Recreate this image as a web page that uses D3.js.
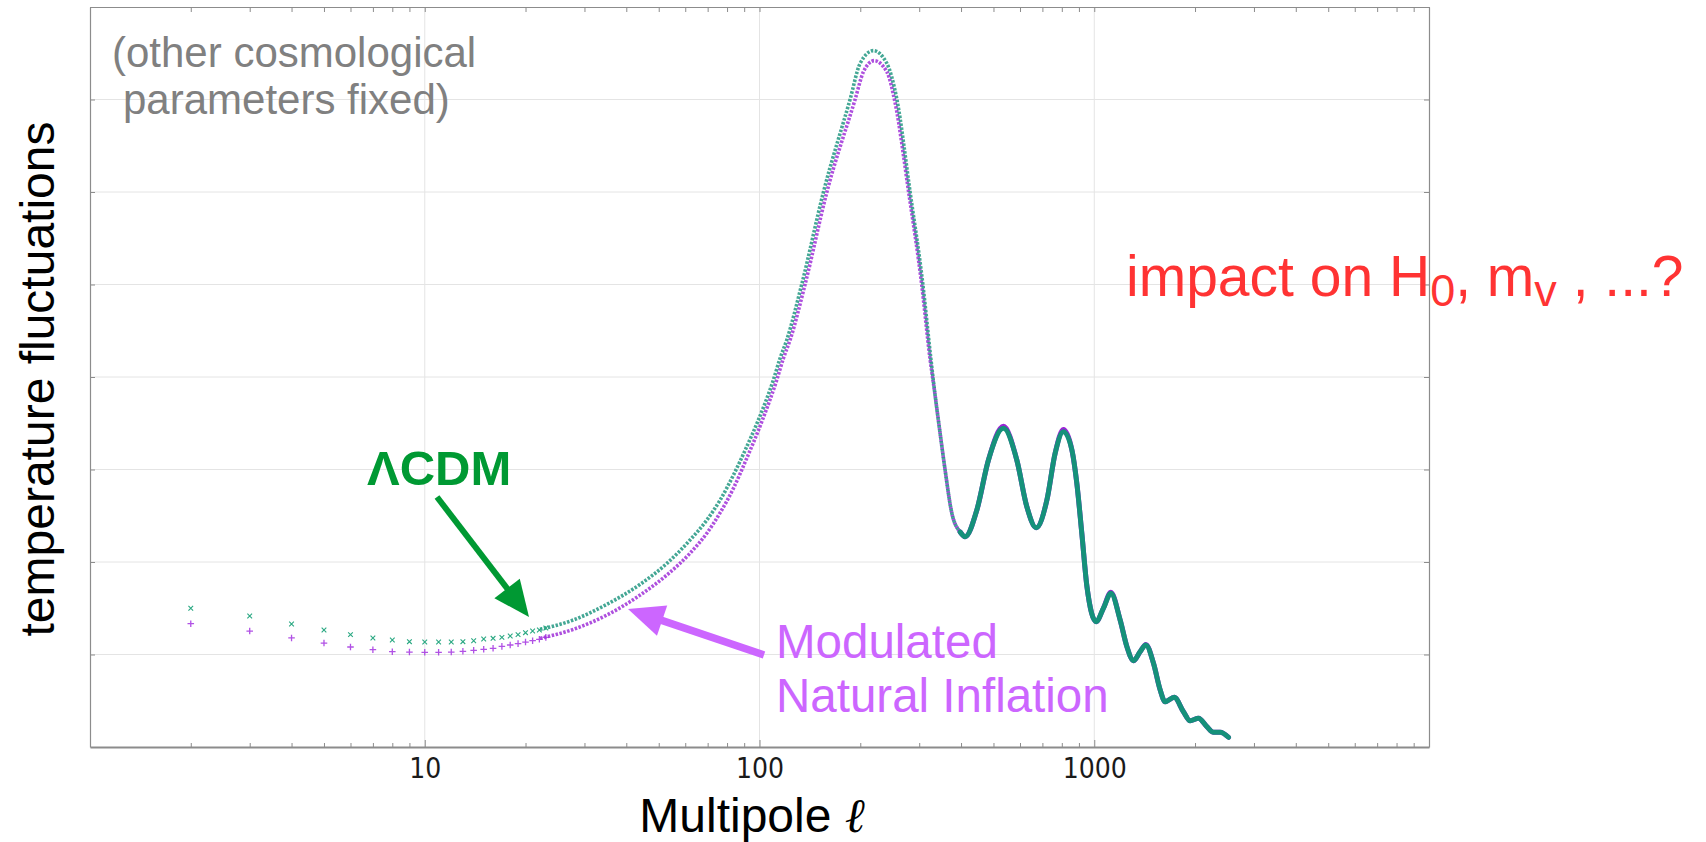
<!DOCTYPE html>
<html>
<head>
<meta charset="utf-8">
<script src="https://cdn.jsdelivr.net/npm/d3@7"></script>
<style>
  html, body { margin: 0; padding: 0; background: #fff; }
  svg { display: block; font-family: "Liberation Sans", Arial, sans-serif; }
</style>
</head>
<body>
<svg id="chart" width="1706" height="842"></svg>
<script>
// CMB temperature power spectrum, D_ell (arbitrary units), for two models.

// Low multipoles, drawn as individual markers
const lowEll  = [2, 3, 4, 5, 6, 7, 8, 9, 10, 11, 12, 13, 14, 15, 16, 17, 18, 19, 20, 21, 22, 23];
const lowLCDM = [1125, 1062, 997, 949, 911, 884, 868, 854, 851, 851, 851, 854, 862, 876, 881, 889, 900, 911, 927, 940, 949, 965];
const lowMNI  = [1000, 940, 884, 843, 811, 789, 773, 770, 768, 768, 770, 776, 784, 792, 800, 816, 827, 838, 851, 862, 873, 889];

// Higher multipoles (dense sampling, rendered as a continuous band)
const ellLCDM = [22.1, 27.8, 35.0, 44.0, 52.9, 62.0, 69.6, 76.3, 83.6, 91.6, 99.2, 110, 115.2, 120.6, 133.8, 155.2,
                 186.5, 199.8, 218.9, 240.1, 257.2, 281.8, 307.5, 324.9, 334.7, 346.4, 358.5, 375.5, 397.6, 411.5,
                 446, 483, 535.5, 587, 629, 670.6, 722, 764, 809, 857.5, 887, 918, 951, 1013, 1065, 1121, 1195,
                 1252, 1310, 1371, 1426, 1503, 1574, 1628, 1733, 1847, 1934, 2048, 2170, 2271, 2378, 2518];
const dlLCDM  = [954, 1030, 1157, 1319, 1489, 1678, 1840, 2003, 2205, 2435, 2651, 2976, 3152, 3300, 3754, 4498,
                 5252, 5543, 5646, 5543, 5252, 4498, 3754, 3152, 2850, 2543, 2245, 1895, 1743, 1705,
                 1922, 2327, 2584, 2327, 1948, 1778, 2003, 2381, 2556, 2408, 2138, 1733, 1300, 1016, 1125, 1246, 1030,
                 813, 700, 773, 827, 679, 462, 367, 403, 286, 213, 233, 165, 119, 119, 79];

const ellMNI  = [22.1, 27.8, 35.0, 44.0, 52.9, 62.0, 69.6, 76.3, 83.6, 91.6, 101.6, 112.6, 117.9, 123.4, 136.9, 158.9,
                 193.1, 204.4, 220, 240.1, 254.3, 279, 305, 323, 334.7, 346.4, 358.5, 375.5, 397.6, 411.5,
                 446, 483, 535.5, 587, 629, 670.6, 722, 764, 809, 857.5, 887, 918, 951, 1013, 1065, 1121, 1195,
                 1252, 1310, 1371, 1426, 1503, 1574, 1628, 1733, 1847, 1934, 2048, 2170, 2271, 2378, 2518];
const dlMNI   = [881, 954, 1070, 1232, 1395, 1571, 1733, 1900, 2098, 2341, 2638, 2976, 3152, 3300, 3754, 4498,
                 5252, 5475, 5565, 5475, 5220, 4498, 3754, 3152, 2850, 2543, 2245, 1895, 1743, 1705,
                 1922, 2327, 2600, 2327, 1948, 1778, 2003, 2381, 2575, 2408, 2138, 1733, 1300, 1016, 1125, 1255, 1030,
                 813, 700, 773, 832, 679, 462, 367, 403, 286, 213, 233, 165, 119, 119, 79];

const xTickLabels = [10, 100, 1000];
const yGridValues = [750, 1500, 2250, 3000, 3750, 4500, 5250];

const svg = d3.select("#chart");
const W = 1706, H = 842;
const m = { left: 90, right: 1429, top: 7, bottom: 747 };

const x = d3.scaleLog().domain([1, 10000]).range([m.left, m.right]);
const y = d3.scaleLinear().domain([0, 6000]).range([m.bottom, m.top]);

svg.append("rect").attr("width", W).attr("height", H).attr("fill", "#fff");

// grid
const grid = svg.append("g").attr("stroke", "#e4e4e4").attr("stroke-width", 1);
grid.selectAll("line.h").data(yGridValues).join("line")
  .attr("x1", m.left).attr("x2", m.right)
  .attr("y1", d => y(d)).attr("y2", d => y(d));
grid.selectAll("line.v").data(xTickLabels).join("line")
  .attr("y1", m.top).attr("y2", m.bottom)
  .attr("x1", d => x(d)).attr("x2", d => x(d));

// frame axes with inward ticks
const xTicks = x.ticks();
const fmt = d => xTickLabels.includes(d) ? String(d) : "";

const gBottom = svg.append("g").attr("transform", `translate(0,${m.bottom})`)
  .call(d3.axisBottom(x).tickValues(xTicks).tickFormat(fmt).tickSizeInner(-5).tickSizeOuter(0).tickPadding(11));
const gTop = svg.append("g").attr("transform", `translate(0,${m.top})`)
  .call(d3.axisTop(x).tickValues(xTicks).tickFormat("").tickSizeInner(-5).tickSizeOuter(0));
const gLeft = svg.append("g").attr("transform", `translate(${m.left},0)`)
  .call(d3.axisLeft(y).tickValues(yGridValues).tickFormat("").tickSizeInner(-5).tickSizeOuter(0));
const gRight = svg.append("g").attr("transform", `translate(${m.right},0)`)
  .call(d3.axisRight(y).tickValues(yGridValues).tickFormat("").tickSizeInner(-5).tickSizeOuter(0));

[gTop, gLeft, gRight].forEach(g => {
  g.select(".domain").attr("stroke", "#8c8c8c").attr("stroke-width", 1.2);
  g.selectAll(".tick line").attr("stroke", "#8c8c8c");
});
gBottom.select(".domain").attr("stroke", "#8c8c8c").attr("stroke-width", 2);
gBottom.selectAll(".tick line").attr("stroke", "#8c8c8c")
  .attr("y2", d => xTickLabels.includes(d) ? -7 : -4);
gBottom.selectAll(".tick text")
  .attr("font-family", "'DejaVu Sans Condensed', 'Liberation Sans Narrow', sans-serif")
  .attr("font-size", 28).attr("fill", "#1a1a1a");

// spectra
const colLCDM = "#2aa882", colMNI = "#a332e0";
const line = d3.line().x(d => x(d[0])).y(d => y(d[1])).curve(d3.curveMonotoneX);

const seriesMNI = ellMNI.map((l, i) => [l, dlMNI[i]]);
const seriesLCDM = ellLCDM.map((l, i) => [l, dlLCDM[i]]);

function drawBand(data, color, dash) {
  svg.append("path").datum(data.filter(d => d[0] <= 420))
    .attr("d", line).attr("fill", "none").attr("stroke", color)
    .attr("stroke-width", 3.6).attr("stroke-dasharray", dash).attr("stroke-opacity", 0.8);
  svg.append("path").datum(data.filter(d => d[0] >= 380))
    .attr("d", line).attr("fill", "none").attr("stroke", color)
    .attr("stroke-width", 5).attr("stroke-linecap", "round").attr("stroke-linejoin", "round");
}
drawBand(seriesMNI, "#9a24d6", "2.5,1.5");
drawBand(seriesLCDM, "#15917a", "2.5,1.5");

const sym = (type, size) => d3.symbol().type(type).size(size)();
svg.append("g").selectAll("path").data(lowEll).join("path")
  .attr("transform", (d, i) => `translate(${x(d)},${y(lowMNI[i])})`)
  .attr("d", sym(d3.symbolPlus, 16)).attr("fill", "none").attr("stroke", colMNI)
  .attr("stroke-width", 1.3).attr("opacity", 0.85);
svg.append("g").selectAll("path").data(lowEll).join("path")
  .attr("transform", (d, i) => `translate(${x(d)},${y(lowLCDM[i])})`)
  .attr("d", sym(d3.symbolTimes, 16)).attr("fill", "none").attr("stroke", colLCDM).attr("stroke-width", 1.1);

// axis titles
const xt = svg.append("text").attr("x", 752).attr("y", 832).attr("text-anchor", "middle")
  .attr("font-size", 48).attr("fill", "#000");
xt.append("tspan").text("Multipole ");
xt.append("tspan").attr("font-family", "'DejaVu Serif', serif").attr("font-style", "italic").text("ℓ");
svg.append("text").attr("transform", "translate(54,379) rotate(-90)").attr("text-anchor", "middle")
  .attr("font-size", 48).attr("fill", "#000").text("temperature fluctuations");

// annotations
svg.append("text").attr("x", 112).attr("y", 67).attr("font-size", 42).attr("fill", "#808080").text("(other cosmological");
svg.append("text").attr("x", 123).attr("y", 114).attr("font-size", 42).attr("fill", "#808080").text("parameters fixed)");

svg.append("text").attr("x", 367).attr("y", 485).attr("font-size", 49).attr("font-weight", "bold")
  .attr("fill", "#009933").text("ΛCDM");

svg.append("text").attr("x", 776).attr("y", 658).attr("font-size", 47.5).attr("fill", "#cc66ff").text("Modulated");
svg.append("text").attr("x", 776).attr("y", 712).attr("font-size", 47.5).attr("fill", "#cc66ff").text("Natural Inflation");

function arrow(x1, y1, x2, y2, color, width, headLen, headHalf) {
  const dx = x2 - x1, dy = y2 - y1, L = Math.hypot(dx, dy);
  const ux = dx / L, uy = dy / L, px = -uy, py = ux;
  const bx = x2 - ux * headLen, by = y2 - uy * headLen;
  svg.append("line").attr("x1", x1).attr("y1", y1).attr("x2", bx + ux * 2).attr("y2", by + uy * 2)
    .attr("stroke", color).attr("stroke-width", width);
  svg.append("path")
    .attr("d", `M${x2},${y2}L${bx + px * headHalf},${by + py * headHalf}L${bx - px * headHalf},${by - py * headHalf}Z`)
    .attr("fill", color);
}
arrow(437, 497, 529, 617, "#009933", 6, 36, 16);
arrow(764, 655, 628, 609, "#cc66ff", 7.5, 36, 16);

const red = svg.append("text").attr("x", 1126).attr("y", 296).attr("font-size", 57).attr("fill", "#ff3333");
red.append("tspan").text("impact on H");
red.append("tspan").attr("font-size", 45).attr("dy", 10).text("0");
red.append("tspan").attr("dy", -10).text(", m");
red.append("tspan").attr("font-size", 45).attr("dy", 10).text("v");
red.append("tspan").attr("dy", -10).text(" , ...?");
</script>
</body>
</html>
